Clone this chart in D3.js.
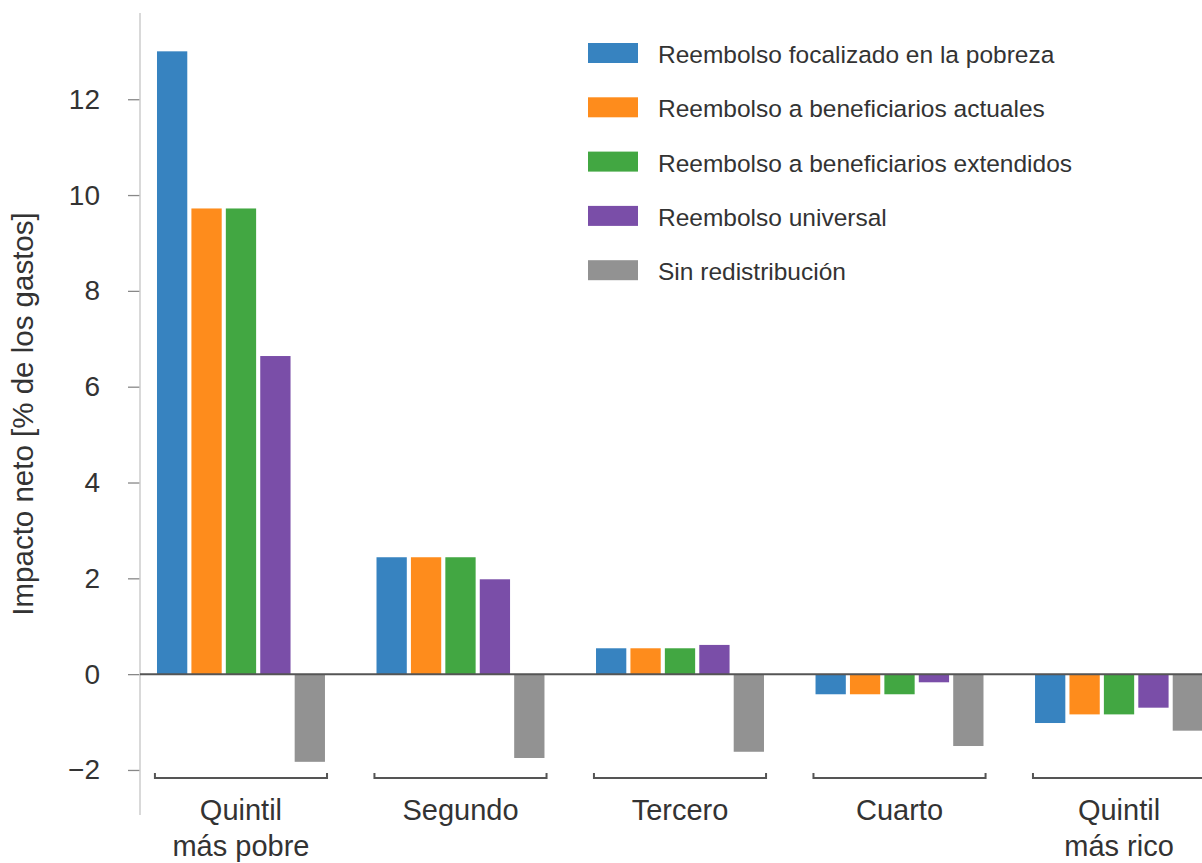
<!DOCTYPE html>
<html><head><meta charset="utf-8">
<script src="https://cdn.jsdelivr.net/npm/d3@7"></script>
<style>body{margin:0;background:#fff;}svg{display:block;font-family:"Liberation Sans",Arial,sans-serif;}</style>
</head><body>
<svg id="chart" width="1202" height="863"></svg>
<script>
const categories = [["Quintil","más pobre"],["Segundo"],["Tercero"],["Cuarto"],["Quintil","más rico"]];
const seriesNames = ["Reembolso focalizado en la pobreza","Reembolso a beneficiarios actuales","Reembolso a beneficiarios extendidos","Reembolso universal","Sin redistribución"];
const seriesColors = ["#3783c0","#fe8c1c","#42a742","#7a4ea8","#929292"];
const focalizado = [13.0, 2.44, 0.54, -0.42, -1.02];
const actuales = [9.72, 2.44, 0.54, -0.42, -0.84];
const extendidos = [9.72, 2.44, 0.54, -0.42, -0.84];
const universal = [6.64, 1.98, 0.61, -0.17, -0.70];
const sinRedist = [-1.83, -1.75, -1.62, -1.50, -1.18];
const yTicks = [-2, 0, 2, 4, 6, 8, 10, 12];

(function(){
const seriesValues = [focalizado, actuales, extendidos, universal, sinRedist];
const catKeys = categories.map(c => c.join(" "));

const svg = d3.select("#chart");
const plotTop = 13, plotBottom = 815, axisX = 140;
const y = d3.scaleLinear().domain([-2.94, 13.8]).range([plotBottom, plotTop]);
const x0 = d3.scaleBand().domain(catKeys).range([axisX, 1220]).paddingInner(0.216).paddingOuter(0.068);
const x1 = d3.scaleBand().domain(seriesNames).range([0, x0.bandwidth()]).paddingInner(0.12).paddingOuter(0.06);

// y axis
const yAxis = svg.append("g").attr("transform", `translate(${axisX},0)`)
  .call(d3.axisLeft(y).tickValues(yTicks).tickSize(12).tickPadding(28).tickFormat(d => d < 0 ? "\u2212" + Math.abs(d) : d));
yAxis.select(".domain").remove();
yAxis.selectAll(".tick line").attr("stroke", "#888").attr("stroke-width", 1.3);
yAxis.selectAll(".tick text").attr("fill", "#333").attr("font-size", 28).attr("font-family", "Liberation Sans, Arial, sans-serif");
svg.append("line").attr("x1", axisX).attr("x2", axisX).attr("y1", plotTop).attr("y2", plotBottom)
  .attr("stroke", "#ccc").attr("stroke-width", 1.5);

svg.append("text").attr("transform", `translate(33,${(plotTop+plotBottom)/2}) rotate(-90)`)
  .attr("text-anchor", "middle").attr("fill", "#333").attr("font-size", 29.5)
  .text("Impacto neto [% de los gastos]");

// bars
const groups = svg.append("g").selectAll("g").data(catKeys).join("g")
  .attr("transform", d => `translate(${x0(d)},0)`);
groups.each(function(cat, ci) {
  d3.select(this).selectAll("rect").data(seriesNames).join("rect")
    .attr("x", s => x1(s))
    .attr("width", x1.bandwidth())
    .attr("y", (s, si) => y(Math.max(0, seriesValues[si][ci])))
    .attr("height", (s, si) => Math.abs(y(seriesValues[si][ci]) - y(0)))
    .attr("fill", (s, si) => seriesColors[si]);
});

// zero line
svg.append("line").attr("x1", axisX).attr("x2", 1202).attr("y1", y(0)).attr("y2", y(0))
  .attr("stroke", "#555").attr("stroke-width", 2);

// brackets
const by = 778;
catKeys.forEach((c, i) => {
  const a = x0(c), b = x0(c) + x0.bandwidth();
  svg.append("path").attr("d", `M${a},${by-5}L${a},${by}L${b},${by}L${b},${by-5}`)
    .attr("fill", "none").attr("stroke", "#555").attr("stroke-width", 2);
  const t = svg.append("text").attr("x", a + x0.bandwidth()/2).attr("y", 820)
    .attr("text-anchor", "middle").attr("fill", "#333").attr("font-size", 29);
  categories[i].forEach((line, li) => {
    t.append("tspan").attr("x", a + x0.bandwidth()/2).attr("dy", li === 0 ? 0 : 36).text(line);
  });
});

// legend
const lg = svg.append("g").attr("transform", "translate(588,43)");
seriesNames.forEach((s, i) => {
  const row = lg.append("g").attr("transform", `translate(0,${i*54.3})`);
  row.append("rect").attr("width", 50).attr("height", 20).attr("fill", seriesColors[i]);
  row.append("text").attr("x", 70).attr("y", 20).attr("fill", "#333").attr("font-size", 24.5).text(s);
});
})();
</script>
</body></html>
